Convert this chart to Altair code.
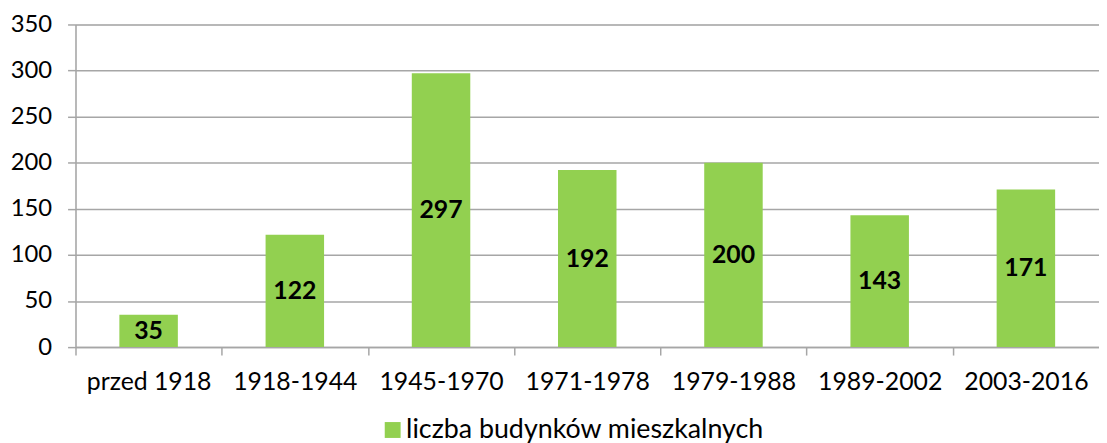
import altair as alt
import pandas as pd

categories = ["przed 1918", "1918-1944", "1945-1970", "1971-1978", "1979-1988", "1989-2002", "2003-2016"]
values = [35, 122, 297, 192, 200, 143, 171]
series_name = "liczba budynków mieszkalnych"

df = pd.DataFrame({"okres": categories, "wartosc": values, "seria": [series_name] * len(values)})

FONT = "Lato"
GREEN = "#92D050"
GRID = "#a6a6a6"
PLOT_W = 1031
PLOT_H = 325
STEP = PLOT_W / len(categories)

x_enc = alt.X(
    "okres:N",
    sort=categories,
    title=None,
    scale=alt.Scale(paddingInner=0.6, paddingOuter=0.3),
    axis=alt.Axis(
        labelAngle=0,
        labelFont=FONT,
        labelFontSize=25,
        labelColor="#000000",
        labelPadding=15,
        labelOffset=0.3 * STEP,
        domainColor=GRID,
        domainWidth=1.5,
        tickColor=GRID,
        tickWidth=1.5,
        tickSize=8,
        bandPosition=0,
        tickOffset=-0.3 * STEP,
        grid=False,
    ),
)

bars = alt.Chart(df).mark_bar(color=GREEN).encode(
    x=x_enc,
    y=alt.Y(
        "wartosc:Q",
        title=None,
        scale=alt.Scale(domain=[0, 350], nice=False),
        axis=alt.Axis(
            values=[0, 50, 100, 150, 200, 250, 300, 350],
            labelFont=FONT,
            labelFontSize=24,
            labelColor="#000000",
            labelPadding=16,
            domainColor=GRID,
            domainWidth=1.5,
            tickColor=GRID,
            tickWidth=1.5,
            tickSize=8,
            gridColor=GRID,
            gridWidth=1.5,
        ),
    ),
    fill=alt.Fill(
        "seria:N",
        scale=alt.Scale(range=[GREEN]),
        legend=alt.Legend(
            title=None,
            orient="none",
            legendX=306,
            legendY=395,
            symbolType="square",
            symbolSize=256,
            symbolStrokeWidth=0,
            labelFont=FONT,
            labelFontSize=27,
            labelColor="#000000",
            labelLimit=600,
            labelOffset=0,
        ),
    ),
)

labels = alt.Chart(df).transform_calculate(mid="datum.wartosc / 2").mark_text(
    font=FONT, fontSize=25, fontWeight="bold", color="#000000", baseline="middle"
).encode(
    x=alt.X("okres:N", sort=categories),
    y=alt.Y("mid:Q"),
    text=alt.Text("wartosc:Q"),
)

chart = (
    alt.layer(bars, labels)
    .properties(
        width=PLOT_W,
        height=PLOT_H,
        autosize=alt.AutoSizeParams(type="none"),
        padding={"left": 68, "top": 15, "right": 0, "bottom": 95},
    )
    .configure_view(stroke=None)
    .configure(background="white")
)

chart.save("out.html", embed_options={"renderer": "svg", "actions": False})
